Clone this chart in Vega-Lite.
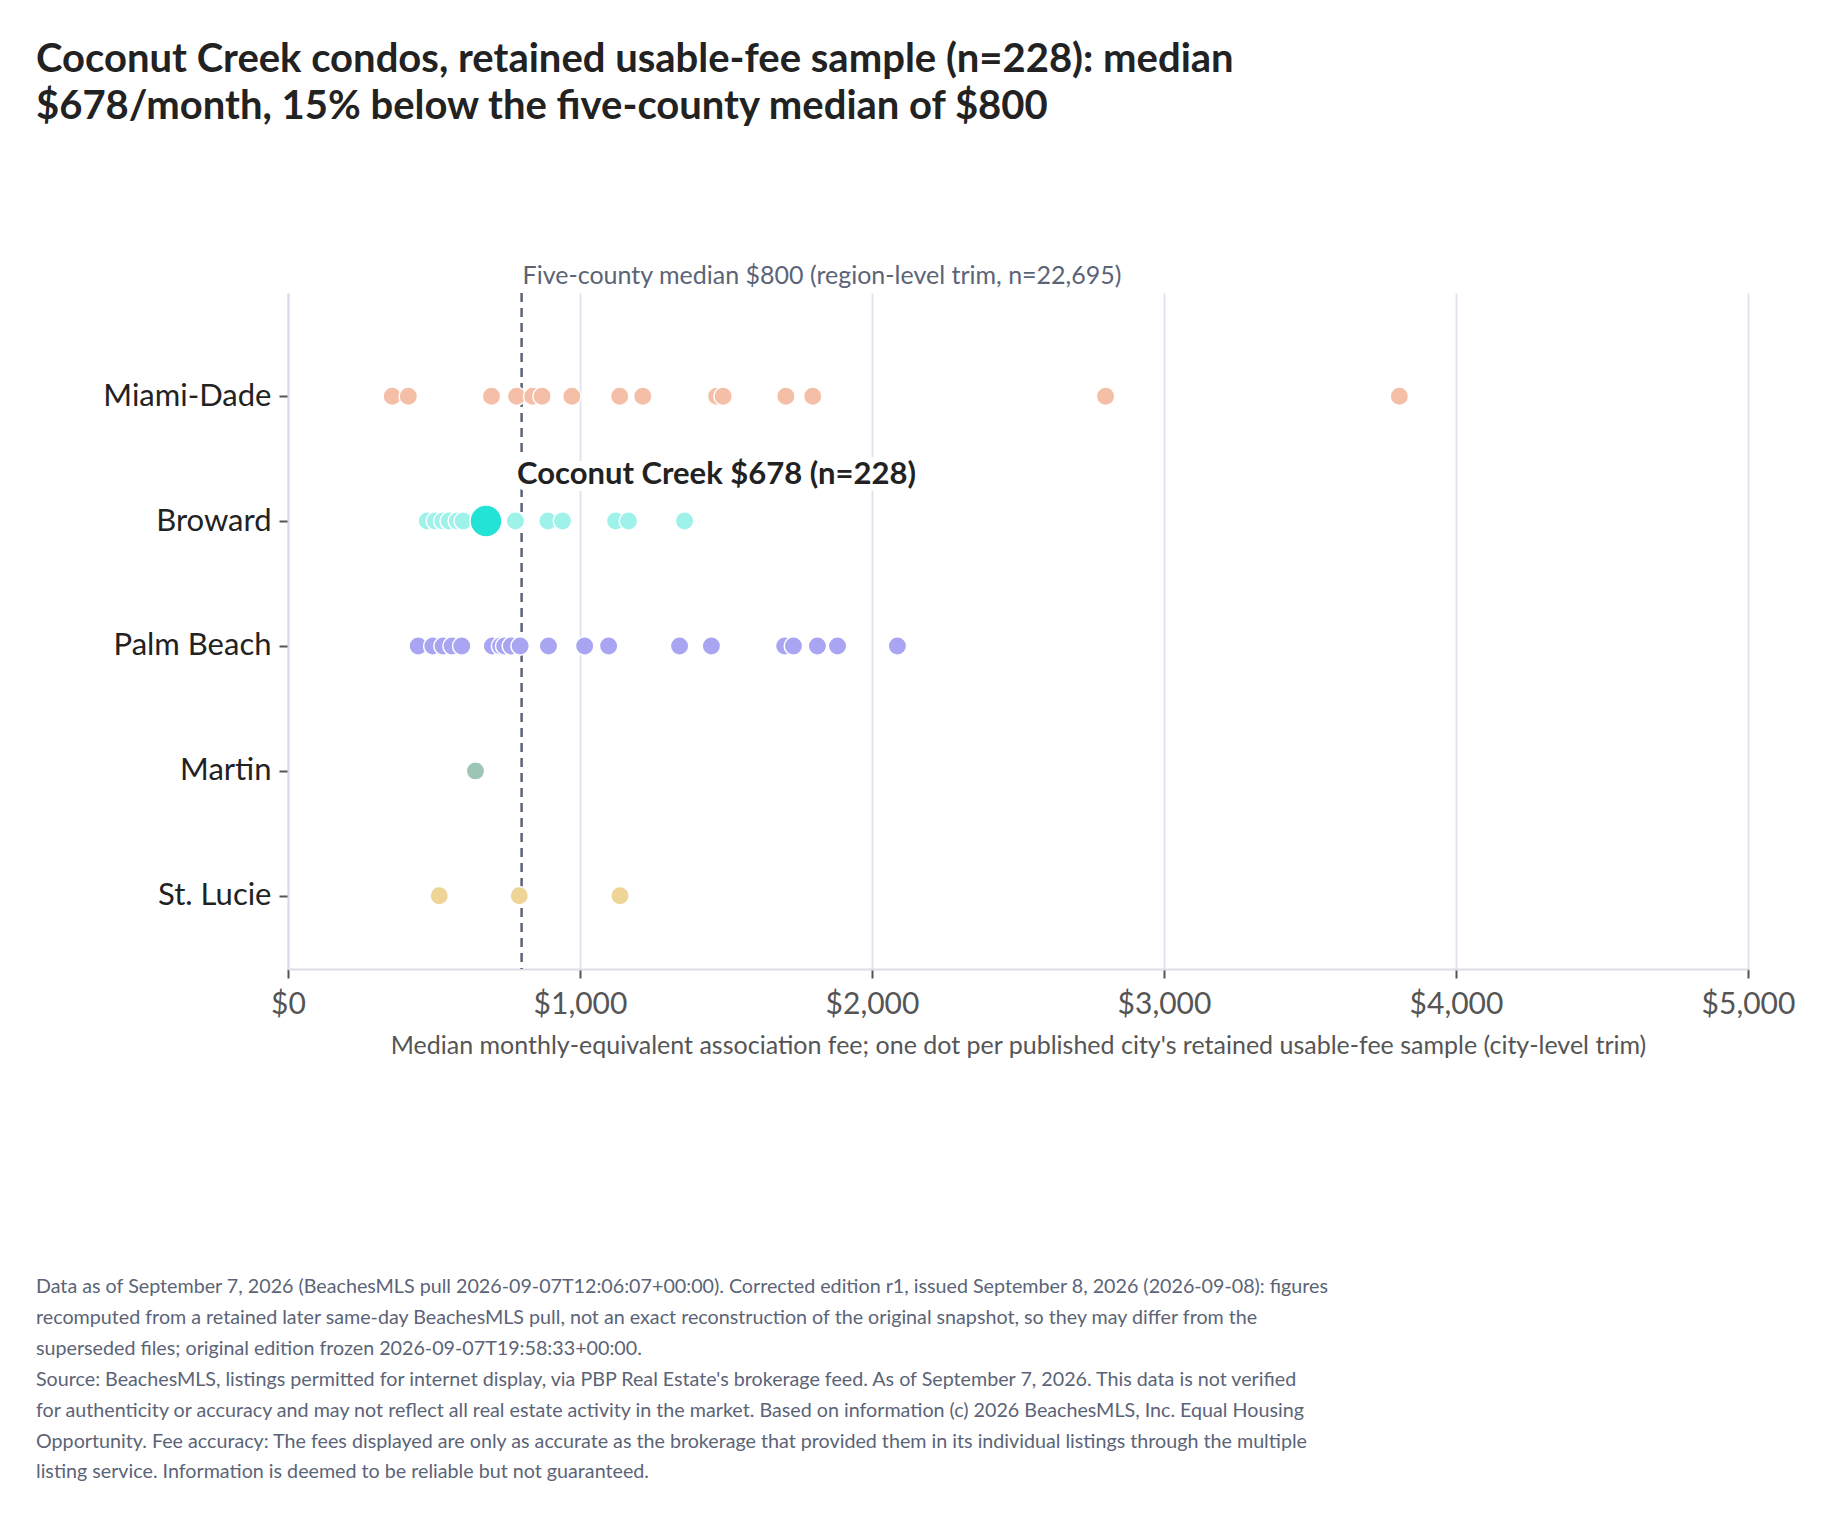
{
  "$schema": "https://vega.github.io/schema/vega-lite/v6.json",
  "background": "white",
  "padding": {"left": 36, "top": 40, "right": 30, "bottom": 30},
  "title": {
    "text": ["Coconut Creek condos, retained usable-fee sample (n=228): median", "$678/month, 15% below the five-county median of $800"],
    "anchor": "start",
    "frame": "bounds",
    "font": "Lato",
    "fontSize": 40,
    "fontWeight": "bold",
    "color": "#222222",
    "lineHeight": 47,
    "offset": 137
  },
  "config": {
    "font": "Lato",
    "view": {"stroke": null}
  },
  "datasets": {
    "cities": [
      {"county": "Miami-Dade", "fee": 357, "highlight": false},
      {"county": "Miami-Dade", "fee": 412, "highlight": false},
      {"county": "Miami-Dade", "fee": 697, "highlight": false},
      {"county": "Miami-Dade", "fee": 783, "highlight": false},
      {"county": "Miami-Dade", "fee": 838, "highlight": false},
      {"county": "Miami-Dade", "fee": 870, "highlight": false},
      {"county": "Miami-Dade", "fee": 972, "highlight": false},
      {"county": "Miami-Dade", "fee": 1136, "highlight": false},
      {"county": "Miami-Dade", "fee": 1215, "highlight": false},
      {"county": "Miami-Dade", "fee": 1468, "highlight": false},
      {"county": "Miami-Dade", "fee": 1490, "highlight": false},
      {"county": "Miami-Dade", "fee": 1705, "highlight": false},
      {"county": "Miami-Dade", "fee": 1797, "highlight": false},
      {"county": "Miami-Dade", "fee": 2800, "highlight": false},
      {"county": "Miami-Dade", "fee": 3806, "highlight": false},
      {"county": "Broward", "fee": 477, "highlight": false},
      {"county": "Broward", "fee": 505, "highlight": false},
      {"county": "Broward", "fee": 530, "highlight": false},
      {"county": "Broward", "fee": 552, "highlight": false},
      {"county": "Broward", "fee": 580, "highlight": false},
      {"county": "Broward", "fee": 600, "highlight": false},
      {"county": "Broward", "fee": 779, "highlight": false},
      {"county": "Broward", "fee": 890, "highlight": false},
      {"county": "Broward", "fee": 940, "highlight": false},
      {"county": "Broward", "fee": 1122, "highlight": false},
      {"county": "Broward", "fee": 1166, "highlight": false},
      {"county": "Broward", "fee": 1358, "highlight": false},
      {"county": "Palm Beach", "fee": 446, "highlight": false},
      {"county": "Palm Beach", "fee": 496, "highlight": false},
      {"county": "Palm Beach", "fee": 531, "highlight": false},
      {"county": "Palm Beach", "fee": 562, "highlight": false},
      {"county": "Palm Beach", "fee": 595, "highlight": false},
      {"county": "Palm Beach", "fee": 700, "highlight": false},
      {"county": "Palm Beach", "fee": 728, "highlight": false},
      {"county": "Palm Beach", "fee": 742, "highlight": false},
      {"county": "Palm Beach", "fee": 765, "highlight": false},
      {"county": "Palm Beach", "fee": 795, "highlight": false},
      {"county": "Palm Beach", "fee": 892, "highlight": false},
      {"county": "Palm Beach", "fee": 1016, "highlight": false},
      {"county": "Palm Beach", "fee": 1098, "highlight": false},
      {"county": "Palm Beach", "fee": 1341, "highlight": false},
      {"county": "Palm Beach", "fee": 1450, "highlight": false},
      {"county": "Palm Beach", "fee": 1701, "highlight": false},
      {"county": "Palm Beach", "fee": 1731, "highlight": false},
      {"county": "Palm Beach", "fee": 1813, "highlight": false},
      {"county": "Palm Beach", "fee": 1882, "highlight": false},
      {"county": "Palm Beach", "fee": 2087, "highlight": false},
      {"county": "Martin", "fee": 642, "highlight": false},
      {"county": "St. Lucie", "fee": 518, "highlight": false},
      {"county": "St. Lucie", "fee": 792, "highlight": false},
      {"county": "St. Lucie", "fee": 1137, "highlight": false},
      {"county": "Broward", "fee": 678, "highlight": true, "label": "Coconut Creek $678 (n=228)"}
    ],
    "region": [
      {"median": 800, "label": "Five-county median $800 (region-level trim, n=22,695)"}
    ]
  },
  "vconcat": [
    {
      "width": 1460,
      "height": 676,
      "title": {
        "text": [
          "Data as of September 7, 2026 (BeachesMLS pull 2026-09-07T12:06:07+00:00). Corrected edition r1, issued September 8, 2026 (2026-09-08): figures",
          "recomputed from a retained later same-day BeachesMLS pull, not an exact reconstruction of the original snapshot, so they may differ from the",
          "superseded files; original edition frozen 2026-09-07T19:58:33+00:00.",
          "Source: BeachesMLS, listings permitted for internet display, via PBP Real Estate's brokerage feed. As of September 7, 2026. This data is not verified",
          "for authenticity or accuracy and may not reflect all real estate activity in the market. Based on information (c) 2026 BeachesMLS, Inc. Equal Housing",
          "Opportunity. Fee accuracy: The fees displayed are only as accurate as the brokerage that provided them in its individual listings through the multiple",
          "listing service. Information is deemed to be reliable but not guaranteed."
        ],
        "orient": "bottom",
        "anchor": "start",
        "frame": "bounds",
        "font": "Lato",
        "fontSize": 19.7,
        "fontWeight": "normal",
        "color": "#5b6477",
        "lineHeight": 30.9,
        "offset": 219
      },
      "layer": [
        {
          "data": {"name": "region"},
          "mark": {"type": "rule", "color": "#5b6477", "strokeWidth": 2.5, "strokeDash": [9, 6]},
          "encoding": {
            "x": {"field": "median", "type": "quantitative", "scale": {"domain": [0, 5000]}}
          }
        },
        {
          "data": {"name": "region"},
          "mark": {"type": "text", "align": "left", "baseline": "bottom", "dx": 1, "dy": -4, "fontSize": 25, "color": "#5b6477"},
          "encoding": {
            "x": {"field": "median", "type": "quantitative"},
            "y": {"value": 0},
            "text": {"field": "label"}
          }
        },
        {
          "data": {"name": "cities"},
          "mark": {"type": "circle", "opacity": 1, "stroke": "white", "strokeWidth": 1.5},
          "encoding": {
            "x": {
              "field": "fee",
              "type": "quantitative",
              "scale": {"domain": [0, 5000], "nice": false},
              "axis": {
                "values": [0, 1000, 2000, 3000, 4000, 5000],
                "format": "$,.0f",
                "labelFlush": false,
                "title": "Median monthly-equivalent association fee; one dot per published city's retained usable-fee sample (city-level trim)",
                "titleFontSize": 25,
                "titleFontWeight": "normal",
                "titleColor": "#555555",
                "titlePadding": 14,
                "labelFontSize": 30,
                "labelColor": "#555555",
                "labelPadding": 11,
                "tickSize": 9,
                "tickColor": "#555555",
                "tickWidth": 2,
                "domainColor": "#dcdcea",
                "domainWidth": 2,
                "gridColor": "#e3e3ef",
                "gridWidth": 2
              }
            },
            "y": {
              "field": "county",
              "type": "nominal",
              "scale": {"type": "point", "domain": ["Miami-Dade", "Broward", "Palm Beach", "Martin", "St. Lucie"], "padding": 0.706, "align": 0.585},
              "axis": {
                "title": null,
                "labelFontSize": 31,
                "labelColor": "#222222",
                "labelPadding": 8,
                "tickSize": 9,
                "tickColor": "#555555",
                "tickWidth": 2,
                "domainColor": "#dcdcea",
                "domainWidth": 2,
                "grid": false,
                "minExtent": 252
              }
            },
            "color": {
              "condition": {"test": "datum.highlight", "value": "#22e3d6"},
              "field": "county",
              "type": "nominal",
              "scale": {
                "domain": ["Miami-Dade", "Broward", "Palm Beach", "Martin", "St. Lucie"],
                "range": ["#f4bfa6", "#9ef2ea", "#a9a5f2", "#9cc5b6", "#eed496"]
              },
              "legend": null
            },
            "size": {
              "field": "highlight",
              "type": "nominal",
              "scale": {"domain": [false, true], "range": [340, 1020]},
              "legend": null
            },
            "order": {"field": "highlight", "type": "ordinal"}
          }
        },
        {
          "data": {"name": "cities"},
          "transform": [{"filter": "datum.highlight"}],
          "mark": {"type": "text", "align": "left", "baseline": "middle", "dx": 31, "dy": -46, "fontSize": 31, "fontWeight": "bold", "stroke": "white", "strokeWidth": 14, "strokeJoin": "round", "color": "white"},
          "encoding": {
            "x": {"field": "fee", "type": "quantitative"},
            "y": {"field": "county", "type": "nominal"},
            "text": {"field": "label"}
          }
        },
        {
          "data": {"name": "cities"},
          "transform": [{"filter": "datum.highlight"}],
          "mark": {"type": "text", "align": "left", "baseline": "middle", "dx": 31, "dy": -46, "fontSize": 31, "fontWeight": "bold", "color": "#222222"},
          "encoding": {
            "x": {"field": "fee", "type": "quantitative"},
            "y": {"field": "county", "type": "nominal"},
            "text": {"field": "label"}
          }
        }
      ]
    }
  ]
}
